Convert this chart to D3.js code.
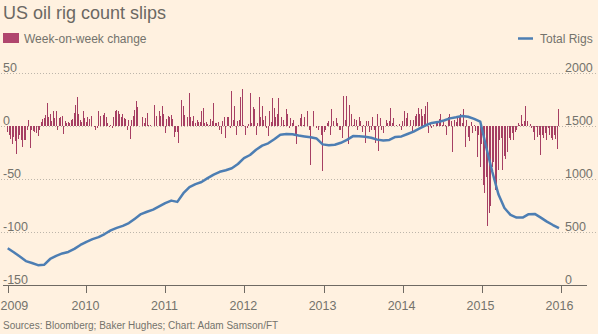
<!DOCTYPE html>
<html>
<head>
<meta charset="utf-8">
<script src="https://cdn.jsdelivr.net/npm/d3@7"></script>
<style>
    body { margin: 0; background: #fff1e0; }
    svg { display: block; }
    text { font-family: "Liberation Sans", Arial, sans-serif; fill: #74736c; }
</style>
</head>
<body>
<div id="chart"></div>
<script>
// Week-on-week change in US oil rigs, one value per weekly report (Fridays)
const firstWeek = new Date(2009, 0, 2);
const change2009 = [-5, -8, -12, -17, -10, -14, -26, -12, -8, -13, -19, -13, -13, -3, 6, -20, -3, -4, -5, -6, -9, -3, 4, 7, 8, 11, 22, 9, 12, 5, 14, 8, 14, -3, 8, 9, 10, -7, 5, 3, 4, 3, 6, 7, 13, 20, 28, 12, 6, 4, 14, 8];
const change2010 = [4, 9, 7, 10, 0, -1, -3, -2, 14, 10, 0, 11, 13, 9, 3, -1, 1, -2, 9, 14, 15, 14, 12, 9, 12, 8, 7, -3, 6, -12, 6, 10, 15, 24, 18, 0, 0, 9, 3, 8, 13, 1, 1, 0, 0, 20, 10, 0, 14, 10, 19, 12, -6];
const change2011 = [7, 10, 9, 11, 7, -10, -5, -5, -16, 0, 25, 19, 11, 0, 9, 31, 9, 5, 10, 3, 6, 4, 4, 14, 17, 3, 4, 2, 1, 7, 5, 22, 3, 3, 4, -3, -7, 5, 9, -11, 9, 9, -2, 33, 6, 19, -8, 5, 6, 28, 35, 1];
const change2012 = [-8, -2, 2, 31, 3, 18, 16, -8, 3, 28, 9, 19, 6, 10, -2, -9, 14, 4, 27, 17, 9, 12, 27, 0, 9, 6, 1, 16, 12, -2, 8, 3, 6, -8, -17, 1, 8, 12, 1, 9, 0, 14, -3, -36, 0, 14, 0, -2, -3, 0, -8, -42];
const change2013 = [-5, -3, 3, 5, -8, 16, 5, 0, 8, 3, -3, -3, -11, 29, 6, 29, -17, 20, 12, 1, 7, 6, -3, 9, 5, -5, 1, -16, 5, 5, -5, -3, 9, -3, -16, 12, -23, 8, -3, -6, 0, 6, 3, 5, 17, 3, 8, 0, 1, 0, 2, -3];
const change2014 = [5, 14, 8, 13, 0, 6, -6, 6, 10, 12, 17, 12, 16, 10, 12, 19, 23, -6, 3, -2, 1, 0, 3, 5, 7, 12, 1, 4, 1, -8, 9, 12, 5, -24, 6, 4, 8, 9, 12, 3, 16, -19, 6, -10, -14, 4, -6, 1, -4, -29, -8, -38];
const change2015 = [-17, -55, -63, -48, -94, -82, -75, -38, -34, -60, -56, -41, -13, -11, -41, -28, -31, -24, -11, -13, -6, -13, -5, -3, 3, 1, 11, 2, 5, 19, 5, 0, 2, -2, -5, -13, -1, -10, -8, -27, -8, -11, -6, -13, -2, -8, -11, -13, -8, -12, -21, 16];

// Total US oil rigs, read every fourth week from the first report
const totalRigs = [351, 314, 273, 230, 212, 192, 195, 250, 280, 302, 316, 345, 382, 412, 437, 456,
    485, 520, 543, 562, 588, 630, 673, 695, 715, 745, 776, 800, 788, 870, 928, 955, 975, 1012,
    1045, 1072, 1086, 1105, 1145, 1200, 1230, 1280, 1318, 1340, 1378, 1420, 1428, 1425, 1413,
    1405, 1398, 1385, 1330, 1322, 1326, 1345, 1372, 1408, 1407, 1402, 1393, 1375, 1366, 1372,
    1400, 1405, 1428, 1450, 1480, 1510, 1532, 1540, 1555, 1575, 1585, 1598, 1590, 1570, 1545,
    1300, 1070, 860, 730, 665, 640, 640, 672, 675, 640, 602, 570, 540];

const leftTicks = [-150, -100, -50, 0, 50];
const rightTicks = [0, 500, 1000, 1500, 2000];
const yearTicks = [2009, 2010, 2011, 2012, 2013, 2014, 2015, 2016];

const title = "US oil rig count slips";
const source = "Sources: Bloomberg; Baker Hughes; Chart: Adam Samson/FT";

const width = 598;
const height = 334;
const barColor = "#a63f63";
const lineColor = "#4d7eb3";

const changes = [change2009, change2010, change2011, change2012, change2013, change2014, change2015]
    .flat()
    .map((v, i) => ({ date: d3.timeDay.offset(firstWeek, 7 * i), value: v }));
const rigs = totalRigs.map((v, i) => ({ date: d3.timeDay.offset(firstWeek, 28 * i), value: v }));

const svg = d3.select("#chart")
              .append("svg")
              .attr("width", width)
              .attr("height", height);

svg.append("rect")
   .attr("width", width)
   .attr("height", height)
   .attr("fill", "#fff1e0");

const xScale = d3.scaleTime()
                 .domain([new Date(2009, 0, 1), new Date(2016, 0, 1)])
                 .range([7.5, 560.5]);

const yLeft = d3.scaleLinear()
                .domain([-150, 50])
                .range([285.5, 73.3]);

const yRight = d3.scaleLinear()
                 .domain([0, 2000])
                 .range([285.5, 73.3]);

// Title and legend
svg.append("text")
   .attr("x", 3)
   .attr("y", 18.5)
   .style("font-size", "18px")
   .style("fill", "#6b6863")
   .text(title);

svg.append("rect")
   .attr("x", 3)
   .attr("y", 33)
   .attr("width", 16)
   .attr("height", 10)
   .attr("fill", "#b0466e");

svg.append("text")
   .attr("x", 24)
   .attr("y", 42.5)
   .style("font-size", "12px")
   .text("Week-on-week change");

svg.append("line")
   .attr("x1", 518)
   .attr("x2", 533)
   .attr("y1", 38.5)
   .attr("y2", 38.5)
   .attr("stroke", lineColor)
   .attr("stroke-width", 2.5);

svg.append("text")
   .attr("x", 540)
   .attr("y", 42.5)
   .style("font-size", "12px")
   .text("Total Rigs");

// Dotted gridlines
svg.append("g")
   .selectAll("line")
   .data(leftTicks.slice(1))
   .enter()
   .append("line")
   .attr("x1", 1)
   .attr("x2", 597)
   .attr("y1", d => Math.round(yLeft(d)) + 0.5)
   .attr("y2", d => Math.round(yLeft(d)) + 0.5)
   .attr("stroke", "#bdb6ab")
   .attr("stroke-width", 1)
   .attr("stroke-dasharray", "1,2");

// Axis labels sit just above their gridlines
svg.append("g")
   .selectAll("text")
   .data(leftTicks)
   .enter()
   .append("text")
   .attr("x", 3)
   .attr("y", d => yLeft(d) - 1.8)
   .style("font-size", "12.5px")
   .text(d => d);

svg.append("g")
   .selectAll("text")
   .data(rightTicks)
   .enter()
   .append("text")
   .attr("x", 565)
   .attr("y", d => yRight(d) - 1.8)
   .style("font-size", "12.5px")
   .text(d => d);

// Bars for the weekly change
svg.append("g")
   .selectAll("rect")
   .data(changes)
   .enter()
   .append("rect")
   .attr("x", d => xScale(d.date) - 0.5)
   .attr("y", d => yLeft(Math.max(0, d.value)))
   .attr("width", 1)
   .attr("height", d => Math.abs(yLeft(d.value) - yLeft(0)))
   .attr("fill", barColor)
   .attr("shape-rendering", "crispEdges");

// Total rigs line
const line = d3.line()
               .x(d => xScale(d.date))
               .y(d => yRight(d.value));

svg.append("path")
   .datum(rigs)
   .attr("d", line)
   .attr("fill", "none")
   .attr("stroke", lineColor)
   .attr("stroke-width", 2.5)
   .attr("stroke-linejoin", "round");

// Bottom axis
svg.append("line")
   .attr("x1", 3)
   .attr("x2", 587)
   .attr("y1", 285.5)
   .attr("y2", 285.5)
   .attr("stroke", "#6f6a63")
   .attr("stroke-width", 1);

const years = yearTicks.map(y => new Date(y, 0, 1));

svg.append("g")
   .selectAll("line")
   .data(years)
   .enter()
   .append("line")
   .attr("x1", d => Math.round(xScale(d)) + 0.5)
   .attr("x2", d => Math.round(xScale(d)) + 0.5)
   .attr("y1", 285.5)
   .attr("y2", 293)
   .attr("stroke", "#6f6a63");

svg.append("g")
   .selectAll("text")
   .data(years)
   .enter()
   .append("text")
   .attr("x", (d, i) => i === 0 ? 0.5 : xScale(d) - 1)
   .attr("y", 309.5)
   .attr("text-anchor", (d, i) => i === 0 ? "start" : "middle")
   .style("font-size", "12.5px")
   .text(d => d.getFullYear());

svg.append("text")
   .attr("x", 3)
   .attr("y", 328.5)
   .style("font-size", "10px")
   .text(source);
</script>
</body>
</html>
